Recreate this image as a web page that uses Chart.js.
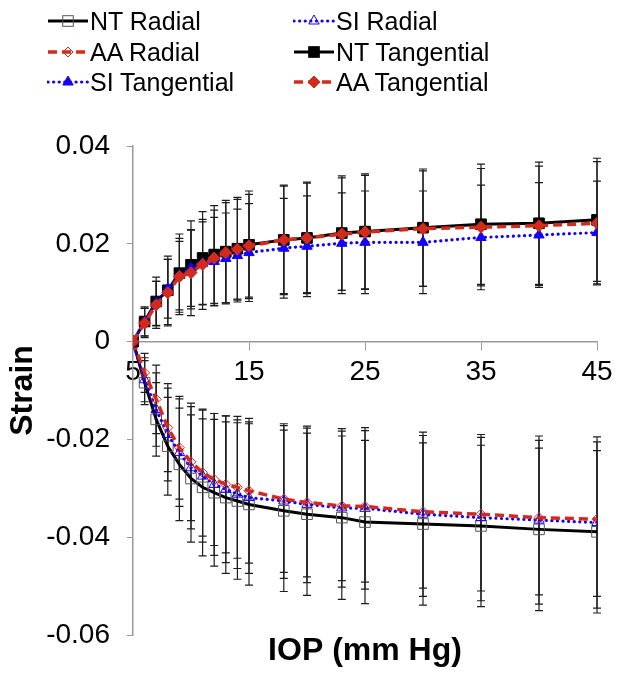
<!DOCTYPE html>
<html>
<head>
<meta charset="utf-8">
<script src="https://cdn.jsdelivr.net/npm/chart.js@4.4.1/dist/chart.umd.min.js"></script>
<style>
  html, body { margin: 0; padding: 0; background: #fff; }
  #wrap { position: relative; width: 621px; height: 675px; }
  #legend { position: absolute; left: 0; top: 0; width: 621px; height: 100px; }
  .item { position: absolute; height: 30px; line-height: 30px; white-space: nowrap;
          font-family: "Liberation Sans", Arial, sans-serif; font-size: 25px; color: #000; }
  .item svg { vertical-align: top; }
</style>
</head>
<body>
<div id="wrap">
  <canvas id="strainChart" width="621" height="675"></canvas>
  <div id="legend"></div>
</div>
<script>
const iop = [5, 6, 7, 8, 9, 10, 11, 12, 13, 14, 15, 18, 20, 23, 25, 30, 35, 40, 45];

const ntRadial = [0, -0.0084, -0.0159, -0.0214, -0.0251, -0.028, -0.0298, -0.0309, -0.0319, -0.0326, -0.0333, -0.0346, -0.0353, -0.036, -0.0369, -0.0373, -0.0377, -0.0384, -0.0389];
const siRadial = [0, -0.0078, -0.0139, -0.019, -0.0227, -0.0258, -0.0275, -0.0292, -0.0302, -0.0312, -0.0319, -0.0326, -0.0333, -0.034, -0.0341, -0.0353, -0.036, -0.0365, -0.037];
const aaRadial = [0, -0.0064, -0.0118, -0.0176, -0.0217, -0.0246, -0.0268, -0.0282, -0.0292, -0.0298, -0.0305, -0.0322, -0.0329, -0.0336, -0.0337, -0.0348, -0.0353, -0.036, -0.0363];
const ntTangential = [0, 0.0041, 0.0082, 0.0105, 0.014, 0.0157, 0.0171, 0.0178, 0.0184, 0.019, 0.0198, 0.0208, 0.0212, 0.0222, 0.0225, 0.0233, 0.024, 0.0242, 0.0249];
const siTangential = [0, 0.004, 0.0078, 0.0108, 0.0135, 0.015, 0.016, 0.0164, 0.017, 0.0176, 0.0182, 0.0191, 0.0195, 0.0201, 0.0203, 0.0203, 0.0213, 0.0218, 0.0223];
const aaTangential = [0, 0.0038, 0.0075, 0.01, 0.0133, 0.0141, 0.0158, 0.0171, 0.0182, 0.0189, 0.0196, 0.0208, 0.0212, 0.022, 0.0224, 0.0231, 0.0234, 0.0237, 0.0242];

// standard deviations (error bars)
const ntRadialSd = [0, 0.0045, 0.0075, 0.01, 0.0115, 0.013, 0.014, 0.015, 0.0155, 0.016, 0.0165, 0.0165, 0.0166, 0.0167, 0.0167, 0.0166, 0.0165, 0.0166, 0.0166];
const siRadialSd = [0, 0.0045, 0.0075, 0.0095, 0.011, 0.0125, 0.0135, 0.0145, 0.015, 0.0152, 0.0155, 0.0158, 0.016, 0.0162, 0.0165, 0.0168, 0.017, 0.0172, 0.0175];
const aaRadialSd = [0, 0.004, 0.007, 0.009, 0.0105, 0.012, 0.013, 0.0135, 0.014, 0.0145, 0.0148, 0.015, 0.0152, 0.0153, 0.0155, 0.0156, 0.0157, 0.0158, 0.0158];
const ntTangentialSd = [0, 0.003, 0.005, 0.007, 0.008, 0.009, 0.0095, 0.01, 0.0105, 0.0105, 0.011, 0.0112, 0.0114, 0.0117, 0.0118, 0.012, 0.0123, 0.0125, 0.0126];
const siTangentialSd = [0, 0.0028, 0.0045, 0.006, 0.007, 0.0078, 0.0085, 0.009, 0.0093, 0.0095, 0.01, 0.0102, 0.0103, 0.0103, 0.0105, 0.0105, 0.0107, 0.0107, 0.0105];
const aaTangentialSd = [0, 0.003, 0.0048, 0.0068, 0.0078, 0.0088, 0.0092, 0.0098, 0.0102, 0.0102, 0.0105, 0.011, 0.0112, 0.0115, 0.0116, 0.0118, 0.012, 0.0122, 0.0126];

const xTicks = [5, 15, 25, 35, 45];
const yTicks = [-0.06, -0.04, -0.02, 0, 0.02, 0.04];
const yTickLabels = ["-0.06", "-0.04", "-0.02", "0", "0.02", "0.04"];

const BLACK = "#000000";
const RED = "#d42a1c";
const BLUE = "#1400ff";
const DASHED = [9, 5];
const DOTTED = [0.1, 5.5];

const toPoints = (ys) => iop.map((x, i) => ({ x, y: ys[i] }));

const series = [
  { label: "NT Radial", data: ntRadial, sd: ntRadialSd, line: BLACK, dash: [], width: 3,
    style: "rect", radius: 7.5, fill: "rgba(255,255,255,0)", edge: "#555555" },
  { label: "SI Radial", data: siRadial, sd: siRadialSd, line: BLUE, dash: DOTTED, width: 3.2,
    style: "triangle", radius: 6, fill: "rgba(255,255,255,0)", edge: BLUE },
  { label: "AA Radial", data: aaRadial, sd: aaRadialSd, line: RED, dash: DASHED, width: 3.5,
    style: "rectRot", radius: 5, fill: "rgba(255,255,255,0)", edge: RED },
  { label: "NT Tangential", data: ntTangential, sd: ntTangentialSd, line: BLACK, dash: [], width: 3,
    style: "rect", radius: 7.5, fill: BLACK, edge: BLACK },
  { label: "SI Tangential", data: siTangential, sd: siTangentialSd, line: BLUE, dash: DOTTED, width: 3.2,
    style: "triangle", radius: 6, fill: BLUE, edge: BLUE },
  { label: "AA Tangential", data: aaTangential, sd: aaTangentialSd, line: RED, dash: DASHED, width: 3.5,
    style: "rectRot", radius: 6, fill: RED, edge: RED },
];

const datasets = series.map((s, i) => ({
  label: s.label,
  data: toPoints(s.data),
  errorBars: s.sd,
  borderColor: s.line,
  borderWidth: s.width,
  borderDash: s.dash,
  borderCapStyle: s.dash === DOTTED ? "round" : "butt",
  pointStyle: s.style,
  pointRadius: s.radius,
  pointBackgroundColor: s.fill,
  pointBorderColor: s.edge,
  pointBorderWidth: 1,
  tension: 0,
  fill: false,
  order: series.length - i,
}));

// vertical error bars, drawn under the series
const errorBarPlugin = {
  id: "errorBars",
  beforeDatasetsDraw(chart) {
    const { ctx } = chart;
    const x = chart.scales.x;
    const y = chart.scales.y;
    ctx.save();
    ctx.strokeStyle = "#1e1e1e";
    ctx.lineWidth = 1.2;
    chart.data.datasets.forEach((ds) => {
      ds.data.forEach((p, i) => {
        const e = ds.errorBars[i];
        if (!e) return;
        const px = x.getPixelForValue(p.x);
        const top = y.getPixelForValue(p.y + e);
        const bot = y.getPixelForValue(p.y - e);
        ctx.beginPath();
        ctx.moveTo(px, top);
        ctx.lineTo(px, bot);
        ctx.moveTo(px - 4, top);
        ctx.lineTo(px + 4, top);
        ctx.moveTo(px - 4, bot);
        ctx.lineTo(px + 4, bot);
        ctx.stroke();
      });
    });
    ctx.restore();
  },
};

const tickFont = { family: "'Liberation Sans', Arial, sans-serif", size: 28 };
const titleFont = { family: "'Liberation Sans', Arial, sans-serif", size: 32, weight: "bold" };

const chart = new Chart(document.getElementById("strainChart"), {
  type: "line",
  data: { datasets },
  options: {
    responsive: false,
    animation: false,
    events: [],
    layout: { padding: { top: 146, right: 24, left: 0, bottom: 0 } },
    plugins: { legend: { display: false }, tooltip: { enabled: false } },
    scales: {
      x: {
        type: "linear",
        position: { y: 0 },
        min: 5,
        max: 45,
        afterBuildTicks: (s) => { s.ticks = xTicks.map((v) => ({ value: v })); },
        ticks: { font: tickFont, color: "#000", padding: 6, maxRotation: 0 },
        grid: { drawOnChartArea: false, drawTicks: true, tickLength: 8, color: "#9a9a9a" },
        border: { color: "#9a9a9a", width: 1.5 },
      },
      x2: {
        type: "linear",
        position: "bottom",
        min: 5,
        max: 45,
        afterFit: (s) => { s.height = 40; },
        ticks: { display: false },
        grid: { display: false, drawTicks: false },
        border: { display: false },
        title: { display: true, text: "IOP (mm Hg)", font: titleFont, color: "#000",
                 padding: { top: 0, bottom: 5 } },
      },
      y: {
        type: "linear",
        position: "left",
        min: -0.06,
        max: 0.04,
        afterBuildTicks: (s) => { s.ticks = yTicks.map((v) => ({ value: v })); },
        afterFit: (s) => { s.width = 133; },
        ticks: {
          font: tickFont,
          color: "#000",
          padding: 17,
          callback: (v) => yTickLabels[yTicks.findIndex((t) => Math.abs(t - v) < 1e-9)],
        },
        grid: { drawOnChartArea: false, drawTicks: true, tickLength: 6, color: "#9a9a9a" },
        border: { color: "#9a9a9a", width: 1.5 },
        title: { display: true, text: "Strain", font: titleFont, color: "#000",
                 padding: { top: 4, bottom: 0 } },
      },
    },
  },
  plugins: [errorBarPlugin],
});

// legend in two columns, filled row by row like the original
function markerSvg(ds) {
  const cx = 21, cy = 15, r = ds.pointRadius;
  let shape;
  if (ds.pointStyle === "rect") {
    const h = r * Math.SQRT1_2;
    shape = `<rect x="${cx - h}" y="${cy - h}" width="${2 * h}" height="${2 * h}"`;
  } else if (ds.pointStyle === "rectRot") {
    shape = `<polygon points="${cx},${cy - r} ${cx + r},${cy} ${cx},${cy + r} ${cx - r},${cy}"`;
  } else {
    const h = r * 0.866;
    shape = `<polygon points="${cx},${cy - r} ${cx + h},${cy + r / 2} ${cx - h},${cy + r / 2}"`;
  }
  shape += ` fill="${ds.pointBackgroundColor}" stroke="${ds.pointBorderColor}" stroke-width="1"/>`;
  const dash = ds.borderDash.length ? `stroke-dasharray="${ds.borderDash.join(" ")}"` : "";
  const cap = ds.borderCapStyle === "round" ? "round" : "butt";
  return `<svg width="43" height="30"><line x1="1" y1="${cy}" x2="41" y2="${cy}" stroke="${ds.borderColor}"
    stroke-width="${ds.borderWidth}" ${dash} stroke-linecap="${cap}"/>${shape}</svg>`;
}

const legendEl = document.getElementById("legend");
const colLeft = [47, 293];
const rowTop = [6, 37, 67];
chart.data.datasets.forEach((ds, i) => {
  const item = document.createElement("div");
  item.className = "item";
  item.style.left = colLeft[i % 2] + "px";
  item.style.top = rowTop[Math.floor(i / 2)] + "px";
  item.innerHTML = markerSvg(ds) + `<span>${ds.label}</span>`;
  legendEl.appendChild(item);
});
</script>
</body>
</html>
